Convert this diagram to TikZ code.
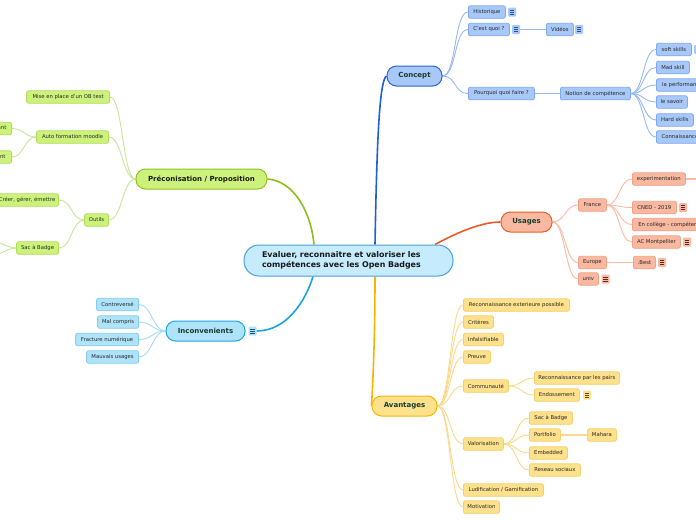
\documentclass[tikz,border=0pt]{standalone}
\usepackage{fontspec}
\setmainfont{DejaVu Sans}
\usetikzlibrary{backgrounds}
\definecolor{ctrFill}{HTML}{C6EBFC}
\definecolor{ctrDraw}{HTML}{4AA0DC}
\definecolor{topicText}{HTML}{173C2F}
\definecolor{subText}{HTML}{262626}
\definecolor{cFill}{HTML}{A8C8F8}
\definecolor{cDraw}{HTML}{2A66D2}
\definecolor{cSubDraw}{HTML}{7EA9EF}
\definecolor{cEdge}{HTML}{1F5FD8}
\definecolor{cSubEdge}{HTML}{96B9F4}
\definecolor{cIcon}{HTML}{2B4F88}
\definecolor{uFill}{HTML}{F9B9A1}
\definecolor{uDraw}{HTML}{EF5B2A}
\definecolor{uSubDraw}{HTML}{F3A084}
\definecolor{uEdge}{HTML}{F15A24}
\definecolor{uSubEdge}{HTML}{F9BBA4}
\definecolor{uIcon}{HTML}{5A2A1C}
\definecolor{pFill}{HTML}{CDF27C}
\definecolor{pDraw}{HTML}{93C11F}
\definecolor{pSubDraw}{HTML}{B4DC5E}
\definecolor{pEdge}{HTML}{8DBF1A}
\definecolor{pSubEdge}{HTML}{CBE39A}
\definecolor{iFill}{HTML}{AEE3F9}
\definecolor{iDraw}{HTML}{1CA7E2}
\definecolor{iSubDraw}{HTML}{86CDEE}
\definecolor{iEdge}{HTML}{1AA3DF}
\definecolor{iSubEdge}{HTML}{A6DCF4}
\definecolor{iIcon}{HTML}{1F4F6A}
\definecolor{aFill}{HTML}{FEE18C}
\definecolor{aDraw}{HTML}{F6B800}
\definecolor{aSubDraw}{HTML}{F5CF6A}
\definecolor{aEdge}{HTML}{F7B500}
\definecolor{aSubEdge}{HTML}{FBD98A}
\definecolor{aIcon}{HTML}{5A4410}
\begin{document}
\begin{tikzpicture}[x=1pt,y=-1pt,
  sub/.style={rectangle, rounded corners=2pt, line width=0.8pt, minimum height=12.5pt,
    inner xsep=1pt, inner ysep=0pt, font=\fontsize{5.3}{6}\selectfont, text=subText},
  topic/.style={rectangle, rounded corners=9.5pt, line width=1pt, minimum height=20pt,
    inner sep=0pt, font=\bfseries\fontsize{7}{8}\selectfont, text=topicText},
  cS/.style={sub, fill=cFill, draw=cSubDraw},
  uS/.style={sub, fill=uFill, draw=uSubDraw},
  pS/.style={sub, fill=pFill, draw=pSubDraw},
  iS/.style={sub, fill=iFill, draw=iSubDraw},
  aS/.style={sub, fill=aFill, draw=aSubDraw},
  note/.style 2 args={rectangle, rounded corners=1pt, fill=#1, minimum width=8pt,
    minimum height=9pt, inner sep=0pt,
    path picture={\foreach \k in {-2,0,2}{\draw[#2, line width=0.7pt]
      ([xshift=-2.2pt,yshift=\k pt]path picture bounding box.center) -- ++(4.4pt,0);}}},
  rc/.style={to path={.. controls ([xshift=#1]\tikztostart) and ([xshift=-#1]\tikztotarget) .. (\tikztotarget)}},
  rc/.default=12pt,
  lc/.style={to path={.. controls ([xshift=-#1]\tikztostart) and ([xshift=#1]\tikztotarget) .. (\tikztotarget)}},
  lc/.default=12pt,
  subedge/.style={line width=0.9pt},
  mainedge/.style={line width=1.6pt},
  link/.style={line width=1.6pt}
]
\useasboundingbox (0,0) rectangle (696,520);

% ---------- central ----------
\node[rectangle, rounded corners=15pt, fill=ctrFill, draw=ctrDraw, line width=1pt,
  minimum width=209pt, minimum height=31pt, text width=173pt, inner xsep=18pt, inner ysep=0pt,
  align=left, font=\bfseries\fontsize{7.9}{10}\selectfont, text=black!90]
  (ctr) at (348.5,260.5) {Evaluer, reconnaitre et valoriser les\\compétences avec les Open Badges};

% ---------- main topics ----------
\node[topic, fill=cFill, draw=cDraw, minimum width=55pt] (concept) at (414.5,76) {Concept};
\node[topic, fill=uFill, draw=uDraw, minimum width=51pt] (usages) at (526.5,222) {Usages};
\node[topic, fill=pFill, draw=pDraw, minimum width=131pt, text=black!90] (preco) at (201.5,179) {Préconisation / Proposition};
\node[topic, fill=iFill, draw=iDraw, minimum width=79pt] (incon) at (205.5,331) {Inconvenients};
\node[note={iFill}{iIcon}] (inconN) at (252.5,331) {};
\node[topic, fill=aFill, draw=aDraw, minimum width=65pt] (avant) at (404.5,406) {Avantages};

% ---------- Concept branch ----------
\node[cS, anchor=west, minimum width=37pt] (hist) at (468,12) {Historique};
\node[note={cFill}{cIcon}] (histN) at (512,12) {};
\node[cS, anchor=west, minimum width=41pt] (cq) at (468,29.5) {C'est quoi ?};
\node[note={cFill}{cIcon}] (cqN) at (516,29.5) {};
\node[cS, anchor=west, minimum width=27pt] (videos) at (546,29.5) {Vidéos};
\node[note={cFill}{cIcon}] (videosN) at (579,29.5) {};
\node[cS, anchor=west, minimum width=66pt] (pourquoi) at (468,93.5) {Pourquoi quoi faire ?};
\node[cS, anchor=west, minimum width=70pt] (notion) at (560,93.5) {Notion de compétence};
\node[cS, anchor=west, minimum width=35pt] (soft) at (656,49.5) {soft skills};
\node[note={cFill}{cIcon}] (softN) at (698,49.5) {};
\node[cS, anchor=west, minimum width=33pt] (mad) at (656,67.5) {Mad skill};
\node[cS, anchor=west, minimum width=52pt] (perf) at (656,85) {la performance};
\node[cS, anchor=west, minimum width=31pt] (savoir) at (656,102) {le savoir};
\node[cS, anchor=west, minimum width=37pt] (hard) at (656,120) {Hard skills};
\node[cS, anchor=west, minimum width=50pt] (conn) at (656,137) {Connaissances};

% ---------- Usages branch ----------
\node[uS, anchor=west, minimum width=28pt] (france) at (578,205) {France};
\node[uS, anchor=west, minimum width=28pt] (europe) at (578,262.5) {Europe};
\node[uS, anchor=west, minimum width=20pt] (univ) at (578,279) {univ};
\node[note={uFill}{uIcon}] (univN) at (605.5,279) {};
\node[uS, anchor=west, minimum width=53pt] (exper) at (632,179) {experimentation};
\coordinate (experOut) at (705,179);
\node[uS, anchor=west, minimum width=44pt] (cned) at (632,207.5) {CNED - 2019};
\node[note={uFill}{uIcon}] (cnedN) at (683,207.5) {};
\node[uS, anchor=west, minimum width=80pt] (college) at (632,224.5) {En collège - compétences};
\node[uS, anchor=west, minimum width=48pt] (acm) at (632,242) {AC Montpellier};
\node[note={uFill}{uIcon}] (acmN) at (687,242) {};
\node[uS, anchor=west, minimum width=22pt] (best) at (633,262.5) {.Best};
\node[note={uFill}{uIcon}] (bestN) at (662,262.5) {};

% ---------- Preconisation branch ----------
\node[pS, anchor=east, minimum width=83pt] (mise) at (110,97) {Mise en place d'un OB test};
\node[pS, anchor=east, minimum width=72pt] (auto) at (109,137) {Auto formation moodle};
\node[pS, anchor=east, minimum width=40pt] (antA) at (12,128.5) {Enseignant};
\node[pS, anchor=east, minimum width=40pt] (antB) at (12,157) {Apprenant};
\node[pS, anchor=east, minimum width=24pt] (outils) at (109,220) {Outils};
\node[pS, anchor=east, minimum width=63pt] (creer) at (59,200) {Créer, gérer, émettre};
\node[pS, anchor=east, minimum width=42pt] (sacP) at (59,248) {Sac à Badge};
\coordinate (offA) at (-14,239);
\coordinate (offB) at (-14,258);

% ---------- Inconvenients branch ----------
\node[iS, anchor=east, minimum width=42pt] (contre) at (139,304.5) {Contreversé};
\node[iS, anchor=east, minimum width=41pt] (mal) at (139,322) {Mal compris};
\node[iS, anchor=east, minimum width=63pt] (fract) at (139,339.5) {Fracture numérique};
\node[iS, anchor=east, minimum width=52pt] (mauv) at (139,357) {Mauvais usages};

% ---------- Avantages branch ----------
\node[aS, anchor=west, minimum width=106pt] (recext) at (463,305) {Reconnaissance exterieure possible};
\node[aS, anchor=west, minimum width=30pt] (crit) at (463,322) {Critères};
\node[aS, anchor=west, minimum width=40pt] (infal) at (463,339.5) {Infalsifiable};
\node[aS, anchor=west, minimum width=27pt] (preuve) at (463,357) {Preuve};
\node[aS, anchor=west, minimum width=45pt] (commu) at (463,386) {Communauté};
\node[aS, anchor=west, minimum width=85pt] (rpp) at (534,378) {Reconnaissance par les pairs};
\node[aS, anchor=west, minimum width=45pt] (endos) at (534,395) {Endossement};
\node[note={aFill}{aIcon}] (endosN) at (587,395) {};
\node[aS, anchor=west, minimum width=40pt] (valor) at (463,444) {Valorisation};
\node[aS, anchor=west, minimum width=43pt] (sacA) at (529,418) {Sac à Badge};
\node[aS, anchor=west, minimum width=31pt] (portf) at (529,435) {Portfolio};
\node[aS, anchor=west, minimum width=29pt] (mahara) at (587,435) {Mahara};
\node[aS, anchor=west, minimum width=38pt] (embed) at (529,453) {Embedded};
\node[aS, anchor=west, minimum width=51pt] (reseau) at (529,470) {Reseau sociaux};
\node[aS, anchor=west, minimum width=80pt] (ludif) at (463,490) {Ludification / Gamification};
\node[aS, anchor=west, minimum width=36pt] (motiv) at (463,507) {Motivation};

% ---------- edges (behind nodes) ----------
\begin{scope}[on background layer]
\fill[white] (0,0) rectangle (696,520);
% main edges
\draw[mainedge, cEdge] ([xshift=26.5pt]ctr.north) .. controls (377,130) and (380,80) .. (concept.west);
\draw[mainedge, uEdge] ([xshift=86.5pt]ctr.north) .. controls (458,232) and (482,222) .. (usages.west);
\draw[mainedge, pEdge] (preco.east) .. controls (294,181) and (311,212) .. ([xshift=-34.5pt]ctr.north);
\draw[mainedge, iEdge] (inconN.east) .. controls (287,331) and (306,300) .. ([xshift=-35.5pt]ctr.south);
\draw[mainedge, aEdge] ([xshift=26.5pt]ctr.south) .. controls (375,350) and (372,396) .. (avant.west);
% Concept
\begin{scope}[cSubEdge, subedge]
\draw (concept.east) to[rc=14pt] (hist.west);
\draw (concept.east) to[rc=14pt] (cq.west);
\draw (concept.east) to[rc=14pt] (pourquoi.west);
\draw[link] (cqN.east) -- (videos.west);
\draw[link] (pourquoi.east) -- (notion.west);
\draw (notion.east) to[rc=13pt] (soft.west);
\draw (notion.east) to[rc=13pt] (mad.west);
\draw (notion.east) to[rc=13pt] (perf.west);
\draw (notion.east) to[rc=13pt] (savoir.west);
\draw (notion.east) to[rc=13pt] (hard.west);
\draw (notion.east) to[rc=13pt] (conn.west);
\end{scope}
% Usages
\begin{scope}[uSubEdge, subedge]
\draw (usages.east) to[rc=13pt] (france.west);
\draw (usages.east) to[rc=13pt] (europe.west);
\draw (usages.east) to[rc=13pt] (univ.west);
\draw (france.east) to[rc=13pt] (exper.west);
\draw (france.east) to[rc=13pt] (cned.west);
\draw (france.east) to[rc=13pt] (college.west);
\draw (france.east) to[rc=13pt] (acm.west);
\draw[link] (exper.east) -- (experOut);
\draw[link] (europe.east) -- (best.west);
\end{scope}
% Preconisation
\begin{scope}[pSubEdge, subedge]
\draw (preco.west) to[lc=13pt] (mise.east);
\draw (preco.west) to[lc=13pt] (auto.east);
\draw (preco.west) to[lc=13pt] (outils.east);
\draw (auto.west) to[lc=12pt] (antA.east);
\draw (auto.west) to[lc=12pt] (antB.east);
\draw (outils.west) to[lc=13pt] (creer.east);
\draw (outils.west) to[lc=13pt] (sacP.east);
\draw (sacP.west) to[lc=10pt] (offA);
\draw (sacP.west) to[lc=10pt] (offB);
\end{scope}
% Inconvenients
\begin{scope}[iSubEdge, subedge]
\draw (incon.west) to[lc=13pt] (contre.east);
\draw (incon.west) to[lc=13pt] (mal.east);
\draw (incon.west) to[lc=13pt] (fract.east);
\draw (incon.west) to[lc=13pt] (mauv.east);
\end{scope}
% Avantages
\begin{scope}[aSubEdge, subedge]
\draw (avant.east) to[rc=13pt] (recext.west);
\draw (avant.east) to[rc=13pt] (crit.west);
\draw (avant.east) to[rc=13pt] (infal.west);
\draw (avant.east) to[rc=13pt] (preuve.west);
\draw (avant.east) to[rc=13pt] (commu.west);
\draw (avant.east) to[rc=13pt] (valor.west);
\draw (avant.east) to[rc=13pt] (ludif.west);
\draw (avant.east) to[rc=13pt] (motiv.west);
\draw (commu.east) to[rc=13pt] (rpp.west);
\draw (commu.east) to[rc=13pt] (endos.west);
\draw (valor.east) to[rc=13pt] (sacA.west);
\draw (valor.east) to[rc=13pt] (portf.west);
\draw (valor.east) to[rc=13pt] (embed.west);
\draw (valor.east) to[rc=13pt] (reseau.west);
\draw[link] (portf.east) -- (mahara.west);
\end{scope}
\end{scope}
\end{tikzpicture}
\end{document}
